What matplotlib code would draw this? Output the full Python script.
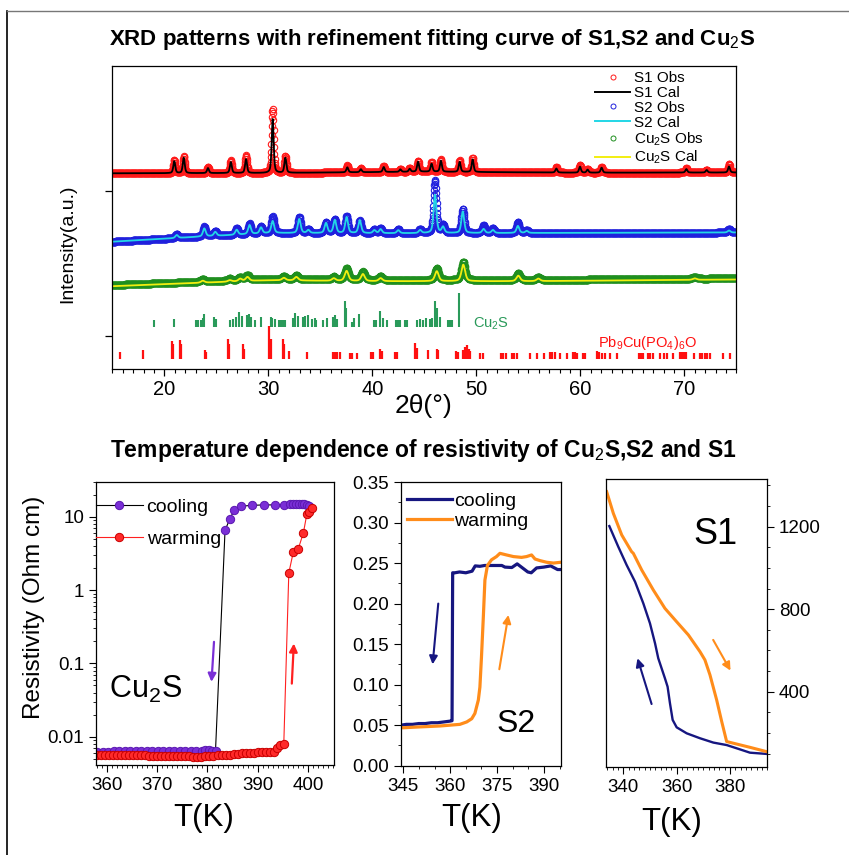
import numpy as np
import matplotlib
matplotlib.use('Agg')
import matplotlib.pyplot as plt
from matplotlib.lines import Line2D
from matplotlib.ticker import MultipleLocator, FixedLocator, NullFormatter, FormatStrFormatter, LogLocator

plt.rcParams['font.family'] = ['Liberation Sans', 'DejaVu Sans']
plt.rcParams['mathtext.fontset'] = 'custom'
plt.rcParams['mathtext.rm'] = 'Liberation Sans'
plt.rcParams['mathtext.it'] = 'Liberation Sans:italic'
plt.rcParams['mathtext.bf'] = 'Liberation Sans:bold'
plt.rcParams['axes.linewidth'] = 0.9

# ---------------- XRD data (peak tables) ----------------
two_theta_range = [15, 75]

s1_pos = [20.96, 21.87, 24.2, 26.4, 27.86, 30.42, 31.64, 37.6, 38.9, 41.1, 42.7, 43.6, 44.4,
          45.7, 46.6, 48.4, 49.65, 57.7, 59.97, 60.7, 62.05, 70.2, 72.15, 74.3]
s1_obs_h = [13.3, 16.6, 6, 13, 17.6, 64, 16.6, 7, 4, 6, 3, 4, 11, 10, 12.7, 11.7, 14.4,
            5.4, 7.7, 4, 6, 4.5, 3, 8.4]
s1_cal_h = [12, 15.5, 5, 11, 14, 54, 15, 5, 3, 5, 2.5, 3, 10, 8, 11, 10, 12.5,
            4, 6, 3, 5, 3.5, 2.5, 6]
s1_bg_x = [15, 30, 45, 60, 75]
s1_bg_y = [195.2, 195.5, 196.8, 195.8, 196.0]

s2_pos = [21.2, 23.85, 24.9, 26.96, 28.2, 29.3, 30.42, 32.98, 33.85, 35.55, 36.4, 37.53, 38.8,
          40.2, 40.8, 42.5, 44.6, 46.03, 46.8, 48.7, 50.7, 51.6, 54.0, 54.85, 74.3]
s2_obs_h = [4, 10, 5, 6.5, 10.5, 7, 16.5, 16, 4, 11, 14, 17.3, 12.6, 4, 5, 4, 4, 52.6, 8,
            24.3, 7.6, 5, 11, 3, 4]
s2_cal_h = [3, 8, 4, 5, 9, 6, 12, 14, 3, 10, 13, 16, 13, 3, 4, 3, 3, 38.3, 6, 21.6, 4, 3,
            7, 2, 2]
s2_bg_x = [15, 23.4, 30.3, 40, 75]
s2_bg_y = [126.8, 131.8, 135.5, 135.2, 136.0]

cu_pos = [23.7, 26.3, 27.3, 28.0, 31.5, 32.7, 36.3, 37.53, 39.1, 40.8, 46.2, 48.75, 54.04, 55.97, 71.0]
cu_obs_h = [2.5, 2, 3, 5, 3, 4, 3, 11.7, 8.3, 4, 11.7, 18.3, 6.7, 3, 2]
cu_cal_h = [2, 1.5, 2.5, 4, 2.5, 3.5, 2.5, 10, 7, 3, 10, 16.5, 5.5, 2.5, 1.5]
cu_bg_x = [15, 30, 40, 55, 75]
cu_bg_y = [83.5, 89.5, 88.5, 88.5, 90.2]

# reference sticks (position, height)
cu_ref_pos = [19.0, 20.93, 23.0, 23.25, 23.5, 23.7, 23.85, 24.75, 24.95, 26.35, 26.6, 26.9, 27.2,
              27.5, 27.98, 28.15, 28.3, 28.7, 29.3, 30.23, 30.4, 30.6, 31.0, 31.2, 31.4, 31.6,
              32.4, 32.6, 32.85, 33.3, 33.55, 33.8, 34.2, 34.45, 34.6, 35.3, 35.6, 36.25, 36.45,
              36.6, 37.37, 37.47, 38.0, 38.2, 38.7, 40.2, 40.4, 40.74, 41.06, 41.4, 42.3, 42.5,
              42.7, 43.1, 43.3, 44.3, 44.6, 44.9, 45.2, 45.5, 45.75, 46.03, 46.25, 46.5, 47.3,
              47.5, 47.65, 48.37]
cu_ref_h = [6.7, 7.3, 6.7, 6.7, 7, 9, 12.7, 10, 8, 6.7, 8, 10, 14.7, 11, 11.7, 12.7, 10, 6.7,
            10, 10, 9, 8, 6.7, 6.7, 6.7, 6.7, 9, 14, 11, 10, 11, 12, 8, 9, 7, 6.7, 8.3, 10, 11.7,
            8, 26, 18.7, 5, 8.3, 12.7, 6.7, 6.7, 16, 8.3, 6.7, 6.7, 6.7, 6.7, 6.7, 6.7, 7, 8, 7,
            9, 8, 9, 26, 18.7, 10, 7, 7, 7, 34]

pb_ref_pos = [15.77, 17.98, 20.7, 20.85, 21.5, 21.63, 23.9, 24.0, 26.1, 26.2, 27.6, 27.7, 30.1,
              30.23, 31.44, 31.54, 31.96, 33.7, 36.25, 36.4, 36.6, 36.9, 37.85, 38.0, 38.5, 39.9,
              40.1, 40.7, 40.9, 42.2, 42.4, 44.1, 44.3, 45.4, 46.2, 46.35, 48.05, 48.2, 48.75,
              48.9, 49.1, 49.25, 49.4, 50.35, 50.6, 52.4, 52.6, 52.9, 53.4, 53.6, 53.9, 55.2,
              55.8, 56.5, 57.1, 57.3, 57.6, 58.05, 58.7, 59.3, 59.5, 59.65, 60.3, 60.45, 61.6,
              61.8, 62.1, 62.4, 62.85, 63.5, 65.6, 65.8, 66.05, 66.5, 66.7, 67.0, 67.7, 68.0,
              68.3, 68.9, 69.6, 69.8, 70.0, 70.2, 70.9, 71.5, 71.7, 72.0, 72.2, 72.5, 73.75, 74.4]
pb_ref_h = [6.7, 8.3, 17.6, 15, 18.3, 15, 9, 7, 19.3, 15, 14.3, 10, 32.6, 19.3, 20, 15, 7.6, 6.7,
            6.7, 6.7, 6.7, 6.7, 6, 6, 6, 7, 7, 10, 8, 7, 7, 16, 11, 9, 10, 9, 8, 7, 9, 12, 14, 10,
            8, 6, 6, 6, 6, 6, 6, 6, 6, 6, 6, 6, 7, 7, 7, 6, 6, 7, 7, 6, 6, 6, 8, 7, 6, 6, 6, 6,
            6, 6, 6, 6, 6, 6, 6, 6, 6, 6, 7, 7, 7, 7, 6, 6, 6, 6, 6, 6, 6, 6]
cu_ref_base = 41.8
pb_ref_base = 9.8

# ---------------- resistivity data ----------------
cu_cool_T = [358.0, 359.1, 360.2, 361.3, 362.4, 363.5, 364.6, 365.7, 366.8, 367.9, 369.0, 370.1,
             371.2, 372.3, 373.4, 374.5, 375.6, 376.7, 377.8, 378.9, 379.6, 380.3, 381.0, 381.6,
             383.5, 384.5, 385.3, 386.6, 388.9, 391.2, 393.5, 395.2, 396.4, 397.0, 397.6, 398.2,
             398.8, 399.3, 399.8, 400.3]
cu_cool_R = [0.0062, 0.0062, 0.0062, 0.0063, 0.0063, 0.0063, 0.0063, 0.0064, 0.0064, 0.0064,
             0.0064, 0.0064, 0.0064, 0.0064, 0.0064, 0.0063, 0.0063, 0.0063, 0.0063, 0.0064,
             0.0065, 0.0065, 0.0064, 0.0064,
             6.6, 9.5, 12.3, 14.0, 14.4, 14.6, 14.6, 14.6, 14.8, 14.9, 14.9, 14.9, 14.9, 14.8,
             14.6, 14.2]

cu_warm_T = [358.0, 358.8, 359.6, 360.4, 361.2, 362.0, 362.8, 363.6, 364.4, 365.2, 366.0, 366.8,
             367.6, 368.4, 369.2, 370.0, 370.8, 371.6, 372.4, 373.2, 374.0, 374.8, 375.6, 376.4,
             377.2, 378.0, 378.8, 379.6, 380.4, 381.2, 382.0, 382.8, 383.6, 384.4, 385.2, 386.0,
             386.8, 387.6, 388.4, 389.2, 390.0, 390.8, 391.6, 392.4, 393.2, 393.8, 394.4, 395.2,
             396.2, 397.1, 398.1, 399.1, 399.8, 400.2, 400.9]
cu_warm_R = [0.0057, 0.0057, 0.0057, 0.0057, 0.0057, 0.0056, 0.0056, 0.0056, 0.0056, 0.0056,
             0.0056, 0.0056, 0.0056, 0.0055, 0.0055, 0.0055, 0.0055, 0.0055, 0.0055, 0.0055,
             0.0054, 0.0054, 0.0054, 0.0054, 0.0053, 0.0053, 0.0053, 0.0054, 0.0055, 0.0055,
             0.0056, 0.0056, 0.0057, 0.0057, 0.0058, 0.0058, 0.0059, 0.0059, 0.0060, 0.0060,
             0.0061, 0.0061, 0.0061, 0.0062, 0.0062, 0.0070, 0.0077, 0.0080,
             1.72, 3.33, 3.7, 6.05, 11.0, 11.7, 13.1]

s2_cool_T = [344.3, 346, 348, 350, 352, 354, 356, 358, 360, 360.6, 360.8, 361.5, 363, 365, 367,
             368, 369.5, 371, 373, 375, 376.5, 377.5, 379.7, 381.4, 383.1, 384.8, 385.9, 387.6,
             389.9, 392.1, 394.3, 395.4]
s2_cool_R = [0.050, 0.051, 0.051, 0.052, 0.052, 0.053, 0.053, 0.054, 0.055, 0.0555, 0.238, 0.238,
             0.239, 0.238, 0.240, 0.2465, 0.246, 0.247, 0.247, 0.247, 0.247, 0.245, 0.2445, 0.249,
             0.244, 0.239, 0.238, 0.244, 0.245, 0.2465, 0.242, 0.242]

s2_warm_T = [344.3, 345, 350, 356.7, 363.1, 365.3, 366.9, 367.9, 369.0, 369.5, 370.0, 370.6,
             371.1, 371.9, 373.2, 374.8, 375.9, 378.0, 380.2, 382.8, 384.4, 386.0, 387.1, 388.7,
             390.8, 393.0, 395.4]
s2_warm_R = [0.047, 0.0468, 0.0478, 0.049, 0.051, 0.054, 0.058, 0.0645, 0.081, 0.097, 0.134,
             0.184, 0.229, 0.247, 0.254, 0.258, 0.262, 0.260, 0.258, 0.257, 0.258, 0.260, 0.255,
             0.253, 0.251, 0.250, 0.251]

s1_cool_T = [334.75, 338.1, 341.25, 344.4, 347.5, 350.0, 351.9, 353.1, 355.6, 356.6, 357.5,
             358.5, 360.0, 363.75, 368.75, 373.75, 378.75, 383.75, 387.5, 393.75]
s1_cool_R = [1203, 1103, 1014, 933, 828, 731, 634, 562, 465, 424, 343, 263, 227, 198, 174, 153,
             141, 120, 104, 98]

s1_warm_T = [333.75, 336.25, 339.4, 343.1, 343.75, 346.9, 351.25, 355.6, 360.0, 364.4, 368.75,
             370.6, 372.5, 375.0, 376.9, 378.75, 382.5, 387.5, 393.75]
s1_warm_R = [1370, 1265, 1160, 1079, 1071, 990, 893, 804, 739, 675, 594, 554, 481, 360, 255, 158,
             146, 130, 109]

# ---------------- figure ----------------
W, H = 849, 855
fig = plt.figure(figsize=(W / 100, H / 100), dpi=100)


def pax(l, t, r, b):
    return fig.add_axes([l / W, 1 - b / H, (r - l) / W, (b - t) / H])


def fx(x):
    return x / W


def fy(y):
    return 1 - y / H


# figure frame
fig.add_artist(Line2D([fx(7), fx(7)], [0, fy(11)], color='black', lw=1.2))
fig.add_artist(Line2D([fx(7), 1], [fy(11), fy(11)], color='#777777', lw=1.0))

# ---------------- top panel: XRD ----------------
ax = pax(112.3, 66, 736.3, 368.5)
grid = np.arange(two_theta_range[0], two_theta_range[1] + 0.001, 0.025)


def profile(pos, hts, fwhm, bgx, bgy):
    y = np.interp(grid, bgx, bgy)
    for p, h in zip(pos, hts):
        d = (grid - p) / (fwhm / 2)
        y = y + h * (0.5 / (1 + d ** 2) + 0.5 * np.exp(-np.log(2) * d ** 2))
    return y


s1_obs = profile(s1_pos, s1_obs_h, 0.22, s1_bg_x, s1_bg_y)
s1_cal = profile(s1_pos, s1_cal_h, 0.22, s1_bg_x, s1_bg_y)
s2_obs = profile(s2_pos, s2_obs_h, 0.32, s2_bg_x, s2_bg_y)
s2_cal = profile(s2_pos, s2_cal_h, 0.32, s2_bg_x, s2_bg_y)
cu_obs = profile(cu_pos, cu_obs_h, 0.42, cu_bg_x, cu_bg_y)
cu_cal = profile(cu_pos, cu_cal_h, 0.42, cu_bg_x, [v - 1.2 for v in cu_bg_y])

red, blue, green = '#ff1a1a', '#2020dd', '#1f8f1f'
cyan, yellow = '#22d6e6', '#f2ee10'
mk = dict(marker='o', ms=4.6, mfc='none', mew=0.8, ls='none')
ax.plot(grid, s1_obs, mec=red, **mk)
ax.plot(grid, s1_cal, color='black', lw=1.3)
ax.plot(grid, s2_obs, mec=blue, **mk)
ax.plot(grid, s2_cal, color=cyan, lw=1.3)
ax.plot(grid, cu_obs, mec=green, **mk)
ax.plot(grid, cu_cal, color=yellow, lw=1.3)

ax.vlines(cu_ref_pos, cu_ref_base, [cu_ref_base + h for h in cu_ref_h], color='#2a9a5a', lw=1.5)
ax.vlines(pb_ref_pos, pb_ref_base, [pb_ref_base + h for h in pb_ref_h], color='#ff1010', lw=1.6)
ax.text(49.7, 45.2, 'Cu$_2$S', color='#2a9a5a', fontsize=10.5, va='center', ha='left')
ax.text(61.7, 25.2, 'Pb$_9$Cu(PO$_4$)$_6$O', color='#ff1010', fontsize=10.5, va='center', ha='left')

ax.set_xlim(15, 75)
ax.set_ylim(0, 302.5)
ax.xaxis.set_major_locator(MultipleLocator(10))
ax.xaxis.set_minor_locator(MultipleLocator(1))
ax.yaxis.set_major_locator(FixedLocator([32.5, 177.5]))
ax.yaxis.set_major_formatter(NullFormatter())
ax.tick_params(axis='both', which='major', direction='out', length=5, width=0.9, labelsize=14.5)
ax.tick_params(axis='x', which='minor', direction='out', length=3, width=0.8)
fig.text(fx(424), fy(406), '2θ(°)', fontsize=19, ha='center', va='center')
fig.text(fx(68), fy(244), 'Intensity(a.u.)', fontsize=14, ha='center', va='center', rotation=90)

handles = [Line2D([], [], marker='o', ms=3.6, mfc='none', mec=red, mew=0.7, ls='none'),
           Line2D([], [], color='black', lw=1.4),
           Line2D([], [], marker='o', ms=3.6, mfc='none', mec=blue, mew=0.7, ls='none'),
           Line2D([], [], color=cyan, lw=1.4),
           Line2D([], [], marker='o', ms=3.6, mfc='none', mec=green, mew=0.7, ls='none'),
           Line2D([], [], color=yellow, lw=1.4)]
labels = ['S1 Obs', 'S1 Cal', 'S2 Obs', 'S2 Cal', 'Cu$_2$S Obs', 'Cu$_2$S Cal']
fig.legend(handles, labels, loc='upper left', bbox_to_anchor=(fx(595), fy(71)),
           bbox_transform=fig.transFigure, frameon=False, fontsize=11, handlelength=2.3,
           handletextpad=0.22, labelspacing=0.06, borderpad=0, borderaxespad=0)

fig.text(fx(432), fy(40), 'XRD patterns with refinement fitting curve of S1,S2 and Cu$_2$S',
         fontsize=16, fontweight='bold', ha='center', va='center')
fig.text(fx(423), fy(450), 'Temperature dependence of resistivity of Cu$_2$S,S2 and S1',
         fontsize=16.5, fontweight='bold', ha='center', va='center')

# ---------------- bottom-left: Cu2S ----------------
purple = '#7a2fd6'
axa = pax(96, 482, 334, 765)
axa.set_yscale('log')
axa.plot(cu_cool_T, cu_cool_R, color='black', lw=0.8, marker='o', ms=6.0, mfc=purple,
         mec='#5a18b0', mew=0.7, label='cooling')
axa.plot(cu_warm_T, cu_warm_R, color='#ff2020', lw=0.8, marker='o', ms=6.0, mfc='#ff2a2a',
         mec='#c80000', mew=0.7, label='warming')
axa.set_xlim(357.8, 405.2)
axa.set_ylim(0.0041, 30)
axa.xaxis.set_major_locator(MultipleLocator(10))
axa.xaxis.set_minor_locator(MultipleLocator(1))
axa.yaxis.set_major_locator(FixedLocator([0.01, 0.1, 1, 10]))
axa.yaxis.set_major_formatter(matplotlib.ticker.FixedFormatter(['0.01', '0.1', '1', '10']))
axa.yaxis.set_minor_locator(LogLocator(base=10, subs=np.arange(2, 10)))
axa.yaxis.set_minor_formatter(NullFormatter())
axa.tick_params(axis='both', which='major', direction='out', length=5, labelsize=13.5)
axa.tick_params(axis='both', which='minor', direction='out', length=2.5)
axa.annotate('', xy=(380.8, 0.056), xytext=(381.3, 0.197),
             arrowprops=dict(arrowstyle='-|>', color=purple, lw=1.6, mutation_scale=12,
                             shrinkA=0, shrinkB=0))
axa.annotate('', xy=(397.2, 0.187), xytext=(396.8, 0.053),
             arrowprops=dict(arrowstyle='-|>', color='#ff2020', lw=1.6, mutation_scale=12,
                             shrinkA=0, shrinkB=0))
axa.text(360.3, 0.034, 'Cu$_2$S', fontsize=22, ha='left', va='baseline')
axa.legend(loc='upper left', bbox_to_anchor=(0, 0.943), frameon=False, fontsize=14,
           handlelength=2.4, handletextpad=0.2, labelspacing=0.75, borderpad=0,
           borderaxespad=0, numpoints=1)
fig.text(fx(34), fy(607), 'Resistivity (Ohm cm)', fontsize=17.5, rotation=90, ha='center', va='center')
fig.text(fx(204), fy(818), 'T(K)', fontsize=22.5, ha='center', va='center')

# ---------------- bottom-middle: S2 ----------------
navy, orange = '#161680', '#ff8c1a'
axb = pax(401, 482, 561, 765.7)
axb.plot(s2_cool_T, s2_cool_R, color=navy, lw=2.3, label='cooling')
axb.plot(s2_warm_T, s2_warm_R, color=orange, lw=2.3, label='warming')
axb.set_xlim(344.3, 395.4)
axb.set_ylim(0, 0.35)
axb.xaxis.set_major_locator(FixedLocator([345, 360, 375, 390]))
axb.xaxis.set_minor_locator(MultipleLocator(5))
axb.yaxis.set_major_locator(MultipleLocator(0.05))
axb.yaxis.set_minor_locator(MultipleLocator(0.025))
axb.yaxis.set_major_formatter(FormatStrFormatter('%.2f'))
axb.tick_params(axis='both', which='major', direction='out', length=5, labelsize=13.5)
axb.tick_params(axis='both', which='minor', direction='out', length=2.5)
axb.annotate('', xy=(354.4, 0.125), xytext=(356.2, 0.200),
             arrowprops=dict(arrowstyle='-|>', color=navy, lw=1.5, mutation_scale=12,
                             shrinkA=0, shrinkB=0))
axb.annotate('', xy=(378.6, 0.186), xytext=(375.7, 0.119),
             arrowprops=dict(arrowstyle='-|>', color=orange, lw=1.5, mutation_scale=12,
                             shrinkA=0, shrinkB=0))
axb.text(374.8, 0.041, 'S2', fontsize=23, ha='left', va='baseline')
axb.legend(loc='upper left', bbox_to_anchor=(0.04, 0.965), frameon=False, fontsize=14,
           handlelength=2.3, handletextpad=0.12, labelspacing=0.15, borderpad=0,
           borderaxespad=0)
fig.text(fx(472), fy(818), 'T(K)', fontsize=22.5, ha='center', va='center')

# ---------------- bottom-right: S1 ----------------
axc = pax(606, 479.3, 767.3, 766.7)
axc.plot(s1_cool_T, s1_cool_R, color=navy, lw=1.7)
axc.plot(s1_warm_T, s1_warm_R, color=orange, lw=2.2)
axc.set_xlim(333.5, 394)
axc.set_ylim(36, 1430)
axc.yaxis.tick_right()
axc.xaxis.set_major_locator(MultipleLocator(20))
axc.xaxis.set_minor_locator(MultipleLocator(2))
axc.yaxis.set_major_locator(FixedLocator([400, 800, 1200]))
axc.yaxis.set_minor_locator(MultipleLocator(100))
axc.tick_params(axis='both', which='major', direction='out', length=5, labelsize=13.5)
axc.tick_params(axis='both', which='minor', direction='out', length=2.5)
axc.annotate('', xy=(345.3, 562), xytext=(350.6, 340),
             arrowprops=dict(arrowstyle='-|>', color=navy, lw=1.5, mutation_scale=12,
                             shrinkA=0, shrinkB=0))
axc.annotate('', xy=(380.2, 502), xytext=(373.7, 651),
             arrowprops=dict(arrowstyle='-|>', color=orange, lw=1.5, mutation_scale=12,
                             shrinkA=0, shrinkB=0))
axc.text(366.2, 1116, 'S1', fontsize=26, ha='left', va='baseline')
fig.text(fx(672), fy(822), 'T(K)', fontsize=22.5, ha='center', va='center')

fig.savefig('out.png', dpi=100)
